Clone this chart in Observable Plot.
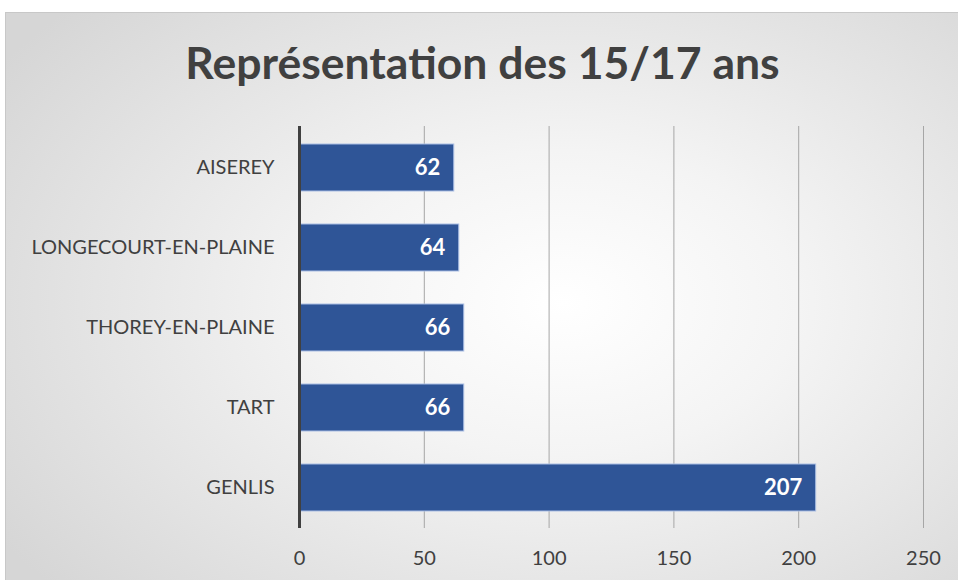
<!DOCTYPE html>
<html>
<head>
<meta charset="utf-8">
<script src="https://cdn.jsdelivr.net/npm/d3@7"></script>
<script src="https://cdn.jsdelivr.net/npm/@observablehq/plot@0.6"></script>
<style>
  html, body { margin: 0; padding: 0; background: #ffffff; width: 958px; height: 580px; overflow: hidden; }
  #frame {
    position: absolute; left: 5px; top: 12px; width: 960px; height: 580px;
    border-top: 1px solid #c8c8c8; border-left: 1px solid #c8c8c8;
    background: radial-gradient(ellipse 70% 75% at 58% 50%, #ffffff 0%, #f4f4f4 35%, #d6d6d6 100%);
    font-family: Lato, "Open Sans", sans-serif;
  }
  #title {
    position: absolute; left: 0; top: 24px; width: 953px; text-align: center;
    font-size: 44.5px; font-weight: bold; color: #404040; line-height: 50px;
  }
  #chart { position: absolute; left: 0; top: 88px; }
</style>
</head>
<body>
<div id="frame">
  <div id="title">Représentation des 15/17 ans</div>
  <div id="chart"></div>
</div>
<script>
const communes = ["AISEREY", "LONGECOURT-EN-PLAINE", "THOREY-EN-PLAINE", "TART", "GENLIS"];
const values = [62, 64, 66, 66, 207];
const xTicks = [0, 50, 100, 150, 200, 250];

const data = communes.map((c, i) => ({commune: c, value: values[i]}));

const plot = Plot.plot({
  width: 953,
  height: 480,
  marginLeft: 293,
  marginRight: 36,
  marginTop: 25,
  marginBottom: 53,
  style: {background: "transparent", fontFamily: "Lato, 'Open Sans', sans-serif", overflow: "visible"},
  x: {domain: [0, 250], ticks: xTicks, label: null},
  y: {domain: communes, paddingInner: 0.415, paddingOuter: 0.2, label: null},
  marks: [
    Plot.gridX(xTicks.filter(t => t > 0), {stroke: "#a6a6a6", strokeOpacity: 1, strokeWidth: 1}),
    Plot.barX(data, {x: "value", y: "commune", fill: "#2F5597", stroke: "#a9bde3", strokeWidth: 1}),
    Plot.ruleX([0], {stroke: "#404040", strokeWidth: 3}),
    Plot.text(data, {x: "value", y: "commune", text: d => String(d.value), textAnchor: "end", dx: -14,
      fill: "white", fontWeight: "bold", fontSize: 22}),
    Plot.axisX({ticks: xTicks, tickSize: 0, tickPadding: 22, fontSize: 20, color: "#404040", label: null}),
    Plot.axisY({tickSize: 0, tickPadding: 25, fontSize: 20, color: "#404040", label: null})
  ]
});
document.getElementById("chart").appendChild(plot);
</script>
</body>
</html>
